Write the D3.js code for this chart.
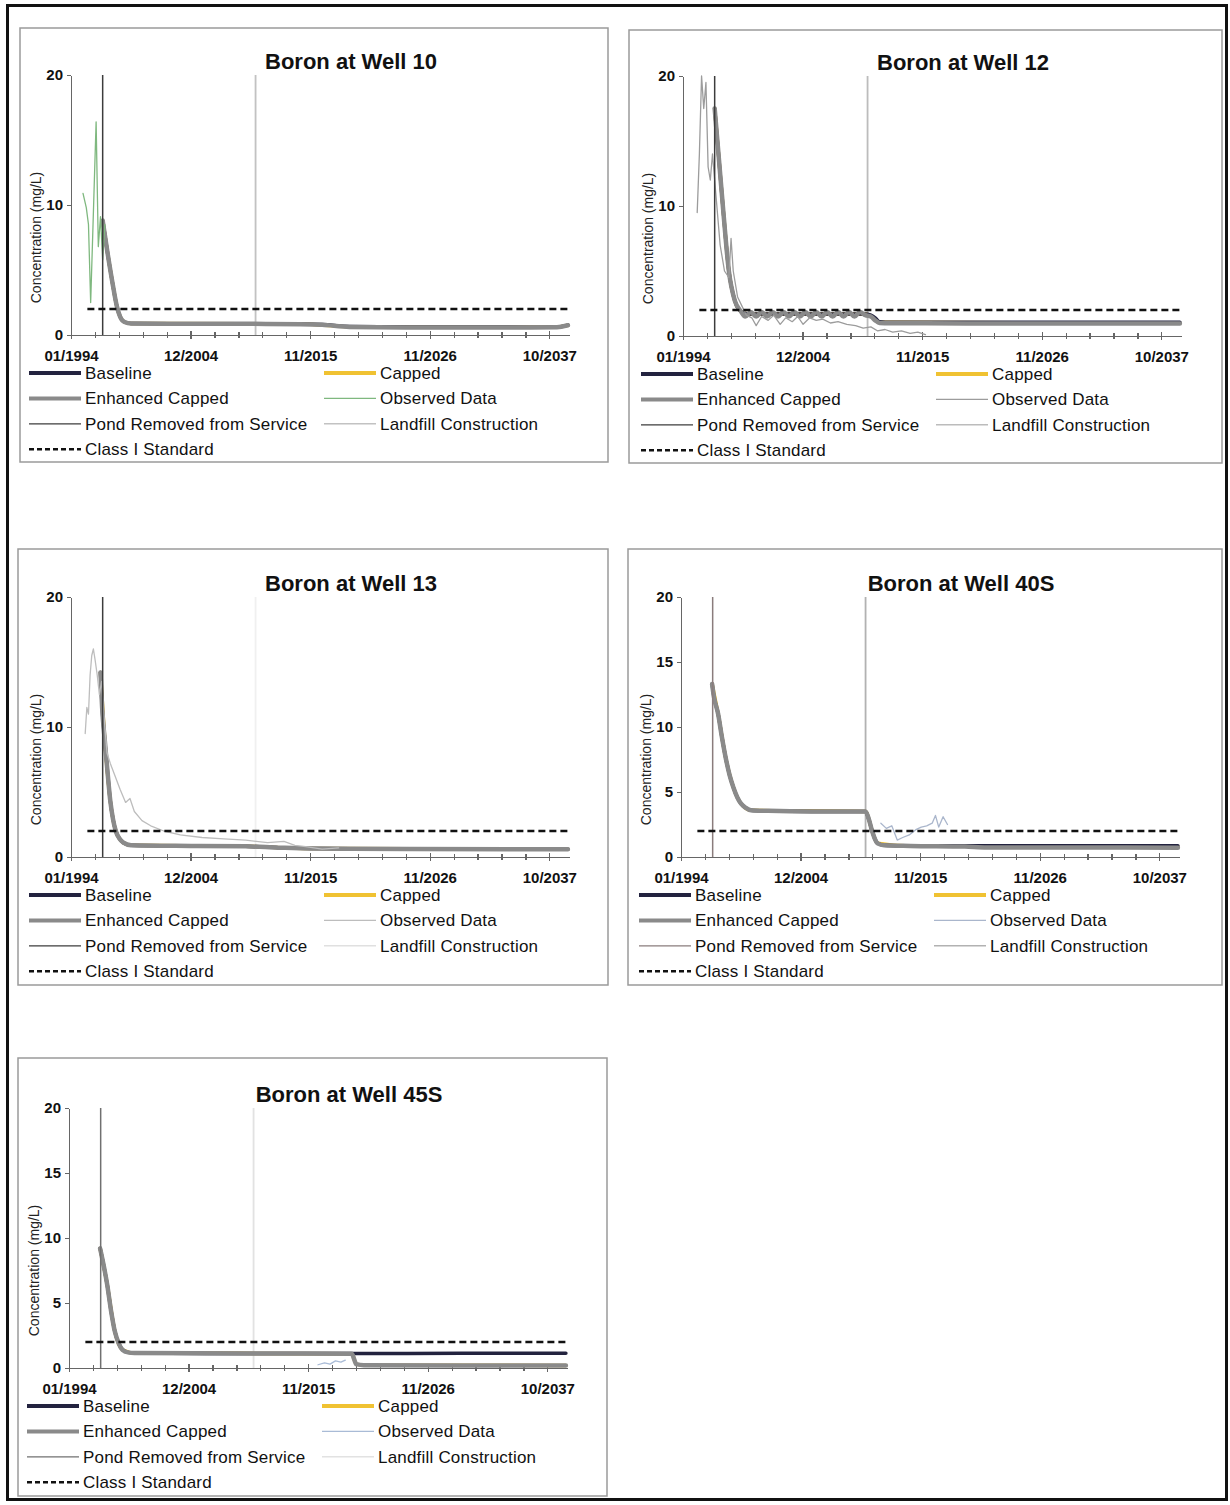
<!DOCTYPE html>
<meta charset="utf-8">
<style>

body {
  margin: 0;
  background: #fff;
}

svg {
  font-family: "Liberation Sans", Arial, sans-serif;
}

.frame {
  fill: none;
  stroke: #111;
  stroke-width: 3;
}

.box {
  fill: #fff;
  stroke: #9a9a9a;
  stroke-width: 1.5;
}

.axis path,
.axis line {
  stroke: #666;
  stroke-width: 1.2;
  shape-rendering: crispEdges;
}

.axis text {
  font-size: 15px;
  font-weight: bold;
  fill: #111;
}

.minor path {
  display: none;
}

.title {
  font-size: 22px;
  font-weight: bold;
  fill: #111;
}

.ylabel {
  font-size: 14px;
  fill: #222;
}

.legend text {
  font-size: 17px;
  letter-spacing: 0.2px;
  fill: #111;
}

.series {
  fill: none;
  stroke-linejoin: round;
  stroke-linecap: round;
}

</style>
<svg width="1230" height="1505"></svg>
<script src="https://d3js.org/d3.v7.min.js"></script>
<script>

// x axis: Excel date axis, major unit 4000 days, minor 800 days
var xDomain = [1994.0, 2039.6];
var xTickValues = [1994.0, 2004.95, 2015.9, 2026.85, 2037.8];
var xTickLabels = ["01/1994", "12/2004", "11/2015", "11/2026", "10/2037"];
var xMinorStep = 2.19;

var yDomain = [0, 20];
var yTicksWide = [0, 10, 20];
var yTicksFine = [0, 5, 10, 15, 20];

var pondRemoved = 1996.9;
var landfillBuilt = 2010.9;
var classIStandard = 2;
var classIRange = [1995.5, 2039.6];

var wells = ["Well 10", "Well 12", "Well 13", "Well 40S", "Well 45S"];

var legendLabels = ["Baseline", "Capped", "Enhanced Capped", "Observed Data",
    "Pond Removed from Service", "Landfill Construction", "Class I Standard"];

// Well 10
var base10 = [[1996.9, 8.8], [1997.35, 6.3], [1997.8, 4.0], [1998.2, 2.2], [1998.5, 1.4], [1998.9, 1.0],
    [1999.5, 0.88], [2005, 0.87], [2010, 0.86], [2015, 0.84], [2017, 0.8], [2019.5, 0.66], [2025, 0.62],
    [2030, 0.62], [2036, 0.6], [2038.5, 0.62], [2039.5, 0.76]];
var cap10 = [[1996.9, 8.8], [1997.35, 6.3], [1997.8, 4.0], [1998.2, 2.2], [1998.5, 1.4], [1998.9, 1.0],
    [1999.5, 0.88], [2010, 0.86], [2015, 0.84], [2019.5, 0.64], [2036, 0.59], [2038.5, 0.61], [2039.5, 0.75]];
var enh10 = [[1996.9, 8.8], [1997.35, 6.3], [1997.8, 4.0], [1998.2, 2.2], [1998.5, 1.4], [1998.9, 1.0],
    [1999.5, 0.88], [2005, 0.87], [2010, 0.86], [2015, 0.83], [2017, 0.78], [2019.5, 0.62], [2025, 0.58],
    [2030, 0.57], [2036, 0.58], [2038.5, 0.6], [2039.5, 0.75]];
var obs10 = [[1995.1, 10.9], [1995.4, 9.8], [1995.6, 8.5], [1995.8, 2.5], [1996.0, 8.0], [1996.3, 16.4],
    [1996.5, 6.8], [1996.7, 9.1], [1996.9, 5.8], [1997.1, 8.5]];

// Well 12
var base12 = [[1996.9, 17.5], [1997.3, 13.5], [1997.7, 9.5], [1998.2, 5.0], [1998.75, 2.7], [1999.3, 1.9],
    [2000, 1.7], [2005, 1.7], [2010.7, 1.7], [2011.2, 1.6], [2011.6, 1.4], [2012.0, 1.1], [2013, 1.05],
    [2025, 1.05], [2039.5, 1.05]];
var cap12 = [[1996.9, 17.5], [1997.3, 13.5], [1997.7, 9.5], [1998.2, 5.0], [1998.75, 2.7], [1999.3, 1.9],
    [2000, 1.7], [2010.7, 1.7], [2011.6, 1.3], [2012.0, 1.05], [2039.5, 1.0]];
var enh12 = [[1996.9, 17.5], [1997.0, 16.5], [1997.3, 13.5], [1997.7, 9.5], [1998.2, 5.0], [1998.75, 2.7],
    [1999.3, 1.9], [1999.7, 1.5], [2000.2, 1.85], [2000.7, 1.5], [2001.2, 1.85], [2001.7, 1.5],
    [2002.2, 1.85], [2002.7, 1.5], [2003.2, 1.85], [2003.7, 1.5], [2004.2, 1.85], [2004.7, 1.5],
    [2005.2, 1.85], [2005.7, 1.5], [2006.2, 1.85], [2006.7, 1.5], [2007.2, 1.85], [2007.7, 1.5],
    [2008.2, 1.85], [2008.7, 1.5], [2009.2, 1.85], [2009.7, 1.5], [2010.2, 1.85], [2010.7, 1.6],
    [2011.2, 1.5], [2011.6, 1.2], [2012.0, 1.0], [2013, 0.98], [2020, 0.97], [2030, 0.97], [2039.5, 0.97]];
var obs12 = [[1995.3, 9.5], [1995.5, 14], [1995.7, 20], [1995.9, 17.5], [1996.1, 19.5], [1996.3, 13],
    [1996.5, 12], [1996.7, 14], [1997.0, 11], [1997.4, 7], [1997.8, 5], [1998.2, 4.5], [1998.4, 7.5],
    [1998.6, 5], [1999.0, 3.0], [1999.4, 2.3], [1999.8, 1.6], [2000.3, 1.4], [2000.7, 0.8], [2001.2, 1.5],
    [2001.8, 1.2], [2002.3, 1.6], [2002.9, 0.9], [2003.4, 1.4], [2004.0, 1.1], [2004.5, 1.5], [2005.0, 0.9],
    [2005.6, 1.4], [2006.2, 1.2], [2006.8, 1.3], [2007.5, 1.0], [2008.2, 1.1], [2009.0, 0.9], [2009.8, 0.8],
    [2010.5, 0.6], [2011.2, 0.7], [2011.8, 0.4], [2012.5, 0.5], [2013.2, 0.3], [2014.0, 0.4], [2014.8, 0.2],
    [2015.5, 0.3], [2016.2, 0.1]];

// Well 13
var base13 = [[1996.7, 14.2], [1996.85, 11.5], [1997.1, 8.9], [1997.35, 6.5], [1997.6, 4.3], [1997.85, 2.9],
    [1998.1, 2.0], [1998.45, 1.4], [1998.8, 1.1], [1999.5, 0.9], [2005, 0.85], [2010, 0.82], [2013, 0.72],
    [2016, 0.65], [2025, 0.62], [2039.5, 0.6]];
var cap13 = [[1996.7, 14.2], [1997.1, 8.9], [1997.6, 4.3], [1998.1, 2.0], [1998.8, 1.1], [1999.5, 0.9],
    [2010, 0.82], [2016, 0.65], [2039.5, 0.6]];
var enh13 = [[1996.7, 14.2], [1996.85, 11.5], [1997.1, 8.9], [1997.35, 6.5], [1997.6, 4.3], [1997.85, 2.9],
    [1998.1, 2.0], [1998.45, 1.4], [1998.8, 1.1], [1999.5, 0.9], [2005, 0.85], [2010, 0.82], [2013, 0.72],
    [2016, 0.65], [2025, 0.62], [2039.5, 0.6]];
var obs13 = [[1995.3, 9.5], [1995.45, 11.5], [1995.6, 11], [1995.75, 14], [1995.9, 15.5], [1996.05, 16],
    [1996.2, 15.2], [1996.4, 14], [1996.6, 12.5], [1996.8, 13.5], [1997.0, 11], [1997.3, 8], [1997.6, 7.2],
    [1998.0, 6.3], [1998.5, 5.2], [1999.0, 4.2], [1999.4, 4.5], [1999.8, 3.5], [2000.5, 2.8], [2001.3, 2.4],
    [2002.5, 2.0], [2004.0, 1.7], [2006.0, 1.5], [2008.0, 1.4], [2010.0, 1.3], [2012.0, 1.1], [2013.5, 1.2],
    [2014.5, 0.9], [2015.5, 0.8], [2017.0, 0.6], [2018.5, 0.7]];

// Well 40S
var base40 = [[1996.85, 13.3], [1997.0, 12.4], [1997.4, 11.0], [1997.75, 9.2], [1998.1, 7.6], [1998.45, 6.3],
    [1998.8, 5.35], [1999.15, 4.6], [1999.5, 4.1], [1999.9, 3.8], [2000.4, 3.6], [2002, 3.55], [2006, 3.5],
    [2010.9, 3.5], [2011.2, 2.9], [2011.5, 2.0], [2011.75, 1.4], [2012.0, 1.05], [2012.6, 0.9], [2015, 0.86],
    [2020, 0.86], [2030, 0.86], [2039.5, 0.86]];
var cap40 = [[1996.85, 13.3], [1997.4, 11.0], [1998.1, 7.6], [1998.8, 5.35], [1999.5, 4.1], [2000.4, 3.6],
    [2010.9, 3.5], [2011.5, 2.0], [2012.0, 1.05], [2015, 0.85], [2039.5, 0.8]];
var enh40 = [[1996.85, 13.3], [1997.0, 12.4], [1997.4, 11.0], [1997.75, 9.2], [1998.1, 7.6], [1998.45, 6.3],
    [1998.8, 5.35], [1999.15, 4.6], [1999.5, 4.1], [1999.9, 3.8], [2000.4, 3.6], [2002, 3.55], [2006, 3.5],
    [2010.9, 3.5], [2011.2, 2.9], [2011.5, 2.0], [2011.75, 1.4], [2012.0, 1.05], [2012.6, 0.9], [2015, 0.85],
    [2020, 0.8], [2022, 0.74], [2030, 0.73], [2039.5, 0.72]];
var obs40 = [[2012.3, 2.6], [2012.8, 2.2], [2013.3, 2.4], [2013.8, 1.3], [2014.3, 1.5], [2014.9, 1.7],
    [2015.5, 2.1], [2016.0, 2.3], [2016.5, 2.4], [2017.0, 2.6], [2017.3, 3.2], [2017.6, 2.3], [2018.0, 3.1],
    [2018.4, 2.5]];

// Well 45S
var base45 = [[1996.85, 9.2], [1997.15, 8.0], [1997.5, 6.4], [1997.85, 4.4], [1998.2, 2.8], [1998.55, 1.9],
    [1998.9, 1.4], [1999.4, 1.2], [2000, 1.15], [2010, 1.12], [2019.9, 1.12], [2030, 1.13], [2039.5, 1.13]];
var cap45 = [[1996.85, 9.2], [1997.5, 6.4], [1998.2, 2.8], [1998.9, 1.4], [2000, 1.15], [2019.9, 1.1],
    [2020.3, 0.3], [2021, 0.22], [2039.5, 0.2]];
var enh45 = [[1996.85, 9.2], [1997.15, 8.0], [1997.5, 6.4], [1997.85, 4.4], [1998.2, 2.8], [1998.55, 1.9],
    [1998.9, 1.4], [1999.4, 1.2], [2000, 1.15], [2010, 1.12], [2019.9, 1.1], [2020.1, 0.7], [2020.3, 0.3],
    [2021, 0.22], [2030, 0.2], [2039.5, 0.2]];
var obs45 = [[2016.8, 0.25], [2017.4, 0.4], [2017.9, 0.3], [2018.4, 0.55], [2018.9, 0.45], [2019.3, 0.6]];

var baseline = [base10, base12, base13, base40, base45];
var capped = [cap10, cap12, cap13, cap40, cap45];
var enhanced = [enh10, enh12, enh13, enh40, enh45];
var observed = [obs10, obs12, obs13, obs40, obs45];

// per-panel look (the scanned copies differ a little)
var obsColors = ["#7fb87f", "#9c9c9c", "#bdbdbd", "#aab6cc", "#a9bbd6"];
var pondColors = ["#3c3c3c", "#3c3c3c", "#3c3c3c", "#8a7c7c", "#707070"];
var landfillColors = ["#c2c2c2", "#bcbcbc", "#f0f0f0", "#b2b2b2", "#e2e2e2"];

var panels = [
  {box: [20, 28, 588, 434], ax: 71, y0: 335, yTicks: yTicksWide},
  {box: [629, 30, 593, 433], ax: 683, y0: 336, yTicks: yTicksWide},
  {box: [18, 549, 590, 436], ax: 71, y0: 857, yTicks: yTicksWide},
  {box: [628, 549, 594, 436], ax: 681, y0: 857, yTicks: yTicksFine},
  {box: [18, 1058, 589, 438], ax: 69, y0: 1368, yTicks: yTicksFine}
];

var plotWidth = 498,
    plotHeight = 260;

var svg = d3.select("svg");

svg.append("rect")
    .attr("class", "frame")
    .attr("x", 7.5)
    .attr("y", 5.5)
    .attr("width", 1219)
    .attr("height", 1494);

panels.forEach(function(p, i) {
  var g = svg.append("g");

  g.append("rect")
      .attr("class", "box")
      .attr("x", p.box[0])
      .attr("y", p.box[1])
      .attr("width", p.box[2])
      .attr("height", p.box[3]);

  var x = d3.scaleLinear()
      .domain(xDomain)
      .range([p.ax, p.ax + plotWidth]);

  var y = d3.scaleLinear()
      .domain(yDomain)
      .range([p.y0, p.y0 - plotHeight]);

  var line = d3.line()
      .x(function(d) { return x(d[0]); })
      .y(function(d) { return y(d[1]); });

  var smooth = d3.line()
      .curve(d3.curveMonotoneX)
      .x(function(d) { return x(d[0]); })
      .y(function(d) { return y(d[1]); });

  // axes
  var xAxis = d3.axisBottom(x)
      .tickValues(xTickValues)
      .tickFormat(function(d, k) { return xTickLabels[k]; })
      .tickSizeInner(4)
      .tickSizeOuter(0)
      .tickPadding(11);

  var xMinor = d3.axisBottom(x)
      .tickValues(d3.range(xDomain[0] + xMinorStep, xDomain[1], xMinorStep))
      .tickFormat("")
      .tickSize(3);

  var yAxis = d3.axisLeft(y)
      .tickValues(p.yTicks)
      .tickSizeInner(4)
      .tickSizeOuter(0)
      .tickPadding(4);

  g.append("g")
      .attr("class", "axis minor")
      .attr("transform", "translate(0," + p.y0 + ")")
      .call(xMinor)
      .selectAll(".tick line")
      .attr("y1", -3);

  var gx = g.append("g")
      .attr("class", "axis")
      .attr("transform", "translate(0," + p.y0 + ")")
      .call(xAxis);
  gx.selectAll(".tick line").attr("y1", -4);

  g.append("g")
      .attr("class", "axis")
      .attr("transform", "translate(" + p.ax + ",0)")
      .call(yAxis);

  // landfill construction marker
  g.append("line")
      .attr("x1", x(landfillBuilt))
      .attr("x2", x(landfillBuilt))
      .attr("y1", y(0))
      .attr("y2", y(20))
      .attr("stroke", landfillColors[i])
      .attr("stroke-width", 1.8);

  // capped sits underneath: it is hidden by the other scenarios in the scan
  g.append("path")
      .attr("class", "series")
      .attr("d", smooth(capped[i]))
      .attr("stroke", "#f0c232")
      .attr("stroke-width", 3.5);

  g.append("path")
      .attr("class", "series")
      .attr("d", smooth(baseline[i]))
      .attr("stroke", "#23233f")
      .attr("stroke-width", 3.5);

  g.append("path")
      .attr("class", "series")
      .attr("d", smooth(enhanced[i]))
      .attr("stroke", "#8a8a8a")
      .attr("stroke-width", 4.5);

  g.append("path")
      .attr("class", "series")
      .attr("d", line(observed[i]))
      .attr("stroke", obsColors[i])
      .attr("stroke-width", 1.3);

  g.append("line")
      .attr("x1", x(pondRemoved))
      .attr("x2", x(pondRemoved))
      .attr("y1", y(0))
      .attr("y2", y(20))
      .attr("stroke", pondColors[i])
      .attr("stroke-width", 1.5);

  g.append("line")
      .attr("x1", x(classIRange[0]))
      .attr("x2", x(classIRange[1]))
      .attr("y1", y(classIStandard))
      .attr("y2", y(classIStandard))
      .attr("stroke", "#111")
      .attr("stroke-width", 2.6)
      .attr("stroke-dasharray", "7,4");

  // title and y label
  g.append("text")
      .attr("class", "title")
      .attr("x", p.ax + 280)
      .attr("y", p.y0 - plotHeight - 6)
      .attr("text-anchor", "middle")
      .text("Boron at " + wells[i]);

  g.append("text")
      .attr("class", "ylabel")
      .attr("transform", "translate(" + (p.ax - 30) + "," + (p.y0 - plotHeight * 0.375) + ") rotate(-90)")
      .attr("text-anchor", "middle")
      .text("Concentration (mg/L)");

  // legend
  var styles = [
    {stroke: "#23233f", width: 4},
    {stroke: "#f0c232", width: 4},
    {stroke: "#8a8a8a", width: 4},
    {stroke: obsColors[i], width: 1.3},
    {stroke: pondColors[i], width: 1.2},
    {stroke: landfillColors[i] === "#f0f0f0" ? "#e0e0e0" : landfillColors[i], width: 1.6},
    {stroke: "#111", width: 2.6, dash: "5,3"}
  ];

  var lg = g.append("g").attr("class", "legend");

  legendLabels.forEach(function(label, k) {
    var col = k === 6 ? 0 : k % 2,
        row = k === 6 ? 3 : Math.floor(k / 2),
        ly = p.y0 + 38 + row * 25.4,
        lx = col === 0 ? p.ax - 42 : p.ax + 253;

    lg.append("line")
        .attr("x1", lx)
        .attr("x2", lx + 52)
        .attr("y1", ly)
        .attr("y2", ly)
        .attr("stroke", styles[k].stroke)
        .attr("stroke-width", styles[k].width)
        .attr("stroke-dasharray", styles[k].dash || null);

    lg.append("text")
        .attr("x", lx + 56)
        .attr("y", ly)
        .attr("dy", "0.35em")
        .text(label);
  });
});

</script>
